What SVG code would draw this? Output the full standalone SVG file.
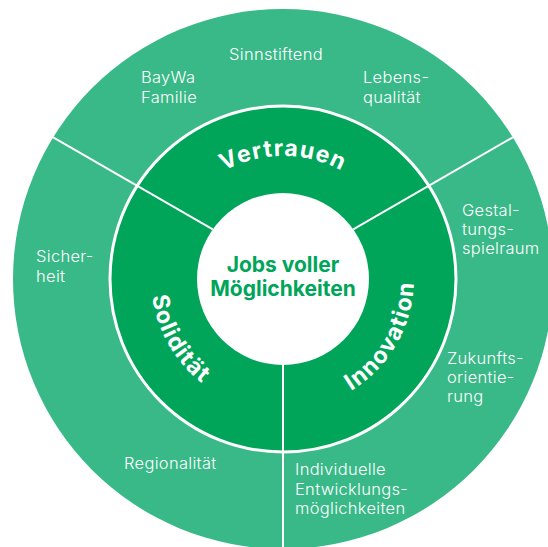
<svg xmlns="http://www.w3.org/2000/svg" width="548" height="547" viewBox="0 0 548 547">
  <style>
    .outer { fill: #38b987; }
    .middle { fill: #00a55a; stroke: #ffffff; stroke-width: 3; }
    .inner { fill: #ffffff; }
    .divider { stroke: #ffffff; stroke-width: 2; fill: none; }
    .lbl { font-family: Inter, "Liberation Sans", Arial, sans-serif; font-size: 16.5px; font-weight: 300; fill: #ffffff; letter-spacing: 0.3px; }
    .ring { font-family: Inter, "Liberation Sans", Arial, sans-serif; font-size: 23px; font-weight: 700; fill: #ffffff; letter-spacing: 1.2px; }
    .core { font-family: Inter, "Liberation Sans", Arial, sans-serif; font-size: 21px; font-weight: 700; fill: #00a55a; }
  </style>
  <defs>
    <path id="pV" d="M 160 279 A 123 123 0 0 1 406 279"/>
    <path id="pS" d="M 168.7 213 A 132 132 0 0 0 283 411"/>
    <path id="pI" d="M 283 410 A 131 131 0 0 0 396.4 213.5"/>
  </defs>
  <rect x="0" y="0" width="548" height="547" fill="#ffffff"/>

  <g id="outer-ring">
    <circle class="outer" cx="283" cy="279" r="270"/>
  </g>
  <g id="middle-ring">
    <circle class="middle" cx="283" cy="279" r="173"/>
  </g>

  <g id="connectors">
    <line class="divider" x1="53.2" y1="137.3" x2="212.8" y2="229.4"/>
    <line class="divider" x1="512.8" y1="137.3" x2="353.2" y2="229.4"/>
    <line class="divider" x1="283" y1="360" x2="283" y2="549"/>
  </g>

  <g id="center">
    <circle class="inner" cx="283" cy="279" r="86"/>
    <text class="core" x="283" y="272" text-anchor="middle">Jobs voller</text>
    <text class="core" x="283" y="296" text-anchor="middle">Möglichkeiten</text>
  </g>

  <g id="vertrauen">
    <text class="ring"><textPath href="#pV" startOffset="50%" text-anchor="middle">Vertrauen</textPath></text>
  </g>
  <g id="soliditaet">
    <text class="ring"><textPath href="#pS" startOffset="50%" text-anchor="middle">Solidität</textPath></text>
  </g>
  <g id="innovation">
    <text class="ring"><textPath href="#pI" startOffset="50%" text-anchor="middle">Innovation</textPath></text>
  </g>

  <g id="sinnstiftend"><text class="lbl" x="229" y="60">Sinnstiftend</text></g>
  <g id="baywa-familie"><text class="lbl" x="141" y="83">BayWa<tspan x="141" dy="19.5">Familie</tspan></text></g>
  <g id="lebensqualitaet"><text class="lbl" x="363" y="83">Lebens-<tspan x="363" dy="19.5">qualität</tspan></text></g>
  <g id="gestaltungsspielraum"><text class="lbl" x="462" y="216">Gestal-<tspan x="462" dy="19">tungs-</tspan><tspan x="462" dy="19">spielraum</tspan></text></g>
  <g id="sicherheit"><text class="lbl" x="36" y="262">Sicher-<tspan x="36" dy="19.5">heit</tspan></text></g>
  <g id="zukunftsorientierung"><text class="lbl" x="447" y="364">Zukunfts-<tspan x="447" dy="19">orientie-</tspan><tspan x="447" dy="19">rung</tspan></text></g>
  <g id="regionalitaet"><text class="lbl" x="124" y="469">Regionalität</text></g>
  <g id="entwicklung"><text class="lbl" x="295" y="475">Individuelle<tspan x="295" dy="19.5">Entwicklungs-</tspan><tspan x="295" dy="19.5">möglichkeiten</tspan></text></g>
</svg>
